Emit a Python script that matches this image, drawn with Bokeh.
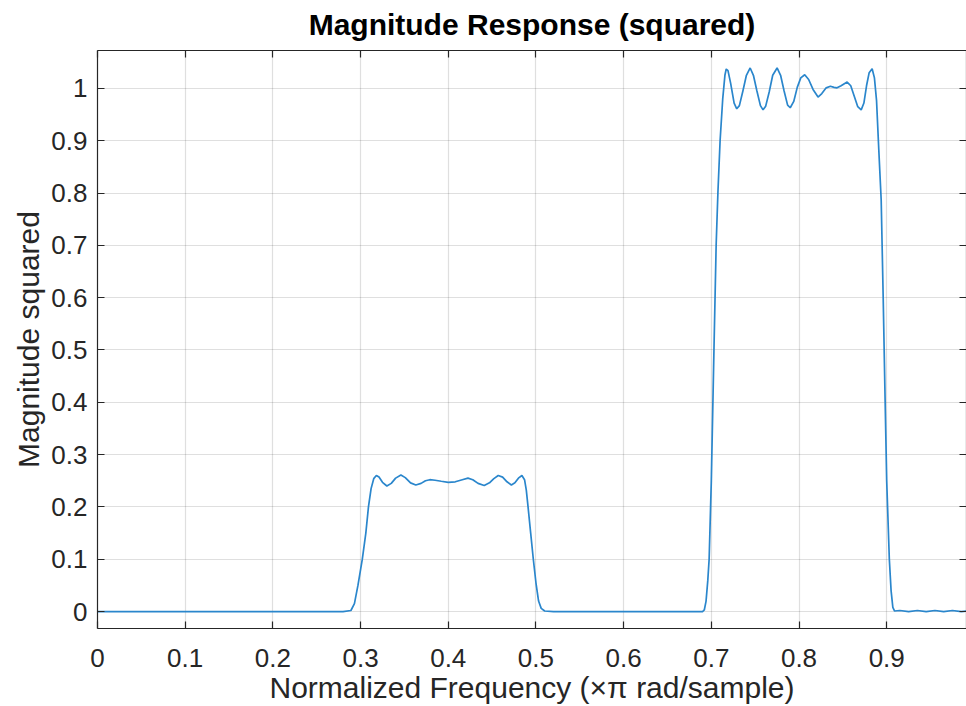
from bokeh.plotting import figure
from bokeh.models import Range1d, FixedTicker, LinearAxis
from bokeh.embed import file_html
from bokeh.resources import INLINE

# ---- data ----
freq = [0.000, 0.100, 0.200, 0.280, 0.289, 0.293, 0.297, 0.302, 0.306, 0.309, 0.312, 0.315,
        0.318, 0.321, 0.325, 0.330, 0.335, 0.340, 0.346, 0.351, 0.357, 0.363, 0.369, 0.374,
        0.379, 0.385, 0.392, 0.400, 0.408, 0.416, 0.4225, 0.428, 0.434, 0.441, 0.447, 0.452,
        0.457, 0.462, 0.467, 0.472, 0.476, 0.480, 0.484, 0.487, 0.489, 0.491, 0.494, 0.497,
        0.500, 0.503, 0.506, 0.510, 0.520, 0.600, 0.690, 0.692, 0.694, 0.696, 0.6975, 0.700,
        0.703, 0.7055, 0.7075, 0.710, 0.713, 0.7155, 0.717, 0.719, 0.722, 0.726, 0.729, 0.732,
        0.736, 0.740, 0.7443, 0.748, 0.752, 0.756, 0.759, 0.762, 0.766, 0.770, 0.775, 0.779,
        0.783, 0.787, 0.790, 0.794, 0.798, 0.802, 0.8065, 0.811, 0.816, 0.8217, 0.826, 0.831,
        0.8358, 0.840, 0.8434, 0.848, 0.8549, 0.859, 0.863, 0.867, 0.8709, 0.874, 0.877, 0.880,
        0.8834, 0.886, 0.8884, 0.891, 0.8937, 0.896, 0.898, 0.900, 0.903, 0.905, 0.907, 0.909,
        0.915, 0.925, 0.935, 0.945, 0.955, 0.965, 0.975, 0.985, 0.993]
mag = [0.000, 0.000, 0.000, 0.000, 0.002, 0.015, 0.050, 0.100, 0.150, 0.200, 0.235, 0.254,
       0.260, 0.257, 0.247, 0.240, 0.245, 0.255, 0.261, 0.256, 0.246, 0.242, 0.245, 0.250,
       0.252, 0.251, 0.249, 0.247, 0.248, 0.252, 0.255, 0.252, 0.245, 0.241, 0.246, 0.254,
       0.260, 0.257, 0.248, 0.242, 0.246, 0.255, 0.260, 0.252, 0.232, 0.200, 0.150, 0.100,
       0.055, 0.020, 0.006, 0.001, 0.000, 0.000, 0.000, 0.003, 0.020, 0.060, 0.100, 0.250,
       0.500, 0.700, 0.800, 0.900, 0.980, 1.025, 1.037, 1.034, 1.010, 0.972, 0.961, 0.967,
       0.995, 1.025, 1.039, 1.025, 0.995, 0.967, 0.959, 0.966, 0.993, 1.025, 1.039, 1.025,
       0.995, 0.968, 0.963, 0.975, 1.002, 1.020, 1.026, 1.017, 0.998, 0.9835, 0.990, 1.001,
       1.004, 1.002, 1.001, 1.005, 1.012, 1.005, 0.985, 0.965, 0.959, 0.972, 1.005, 1.030,
       1.0375, 1.020, 0.977, 0.882, 0.787, 0.600, 0.420, 0.250, 0.100, 0.040, 0.008, 0.001,
       0.002, 0.000, 0.002, 0.000, 0.002, 0.000, 0.002, 0.000, 0.001]

x_ticks = [0.0, 0.1, 0.2, 0.3, 0.4, 0.5, 0.6, 0.7, 0.8, 0.9]
x_tick_labels = ["0", "0.1", "0.2", "0.3", "0.4", "0.5", "0.6", "0.7", "0.8", "0.9"]
y_ticks = [0.0, 0.1, 0.2, 0.3, 0.4, 0.5, 0.6, 0.7, 0.8, 0.9, 1.0]
y_tick_labels = ["0", "0.1", "0.2", "0.3", "0.4", "0.5", "0.6", "0.7", "0.8", "0.9", "1"]

title_text = "Magnitude Response (squared)"
x_label = "Normalized Frequency (\u00d7\u03c0 rad/sample)"
y_label = "Magnitude squared"

FONT = "Liberation Sans"
AX = "#262626"

p = figure(width=966, height=706, output_backend="svg", toolbar_location=None,
           x_range=Range1d(0, 0.991), y_range=Range1d(-0.0324, 1.0724),
           title=title_text)
p.min_border_left = 97
p.min_border_right = 0
p.min_border_top = 0
p.min_border_bottom = 76
p.background_fill_color = "white"
p.border_fill_color = "white"
p.outline_line_color = None

p.title.text_font = FONT
p.title.text_font_size = "30px"
p.title.text_font_style = "bold"
p.title.text_color = "#000000"
p.title.align = "center"
p.title.vertical_align = "top"
p.title.standoff = 15

p.line(freq, mag, line_color="#2a86cc", line_width=1.7)

def style(ax, ticks, labels, show):
    ax.ticker = FixedTicker(ticks=ticks)
    ax.major_label_overrides = dict(zip(ticks, labels))
    ax.minor_tick_line_color = None
    ax.major_tick_in = 7
    ax.major_tick_out = 0
    ax.major_tick_line_color = AX
    ax.major_tick_line_width = 1.2
    ax.axis_line_color = AX
    ax.axis_line_width = 1.2
    ax.major_label_text_font = FONT
    ax.major_label_text_color = AX
    ax.axis_label_text_font = FONT
    ax.axis_label_text_color = AX
    ax.axis_label_text_font_style = "normal"
    if show:
        ax.major_label_text_font_size = "26px"
        ax.axis_label_text_font_size = "30px"
    else:
        ax.major_label_text_font_size = "0px"
        ax.major_label_standoff = 0

xa = p.xaxis[0]
style(xa, x_ticks, x_tick_labels, True)
xa.axis_label = x_label
xa.major_label_standoff = 20
xa.axis_label_standoff = 1

ya = p.yaxis[0]
style(ya, y_ticks, y_tick_labels, True)
ya.axis_label = y_label
ya.major_label_standoff = 10
ya.axis_label_standoff = 3

top = LinearAxis()
style(top, x_ticks, [""] * len(x_ticks), False)
p.add_layout(top, "above")
right = LinearAxis()
style(right, y_ticks, [""] * len(y_ticks), False)
p.add_layout(right, "right")

p.xgrid.ticker = FixedTicker(ticks=x_ticks)
p.ygrid.ticker = FixedTicker(ticks=y_ticks)
for g in (p.xgrid[0], p.ygrid[0]):
    g.grid_line_color = AX
    g.grid_line_alpha = 0.15
    g.grid_line_width = 1.2

open("out.html", "w").write(file_html(p, INLINE))
